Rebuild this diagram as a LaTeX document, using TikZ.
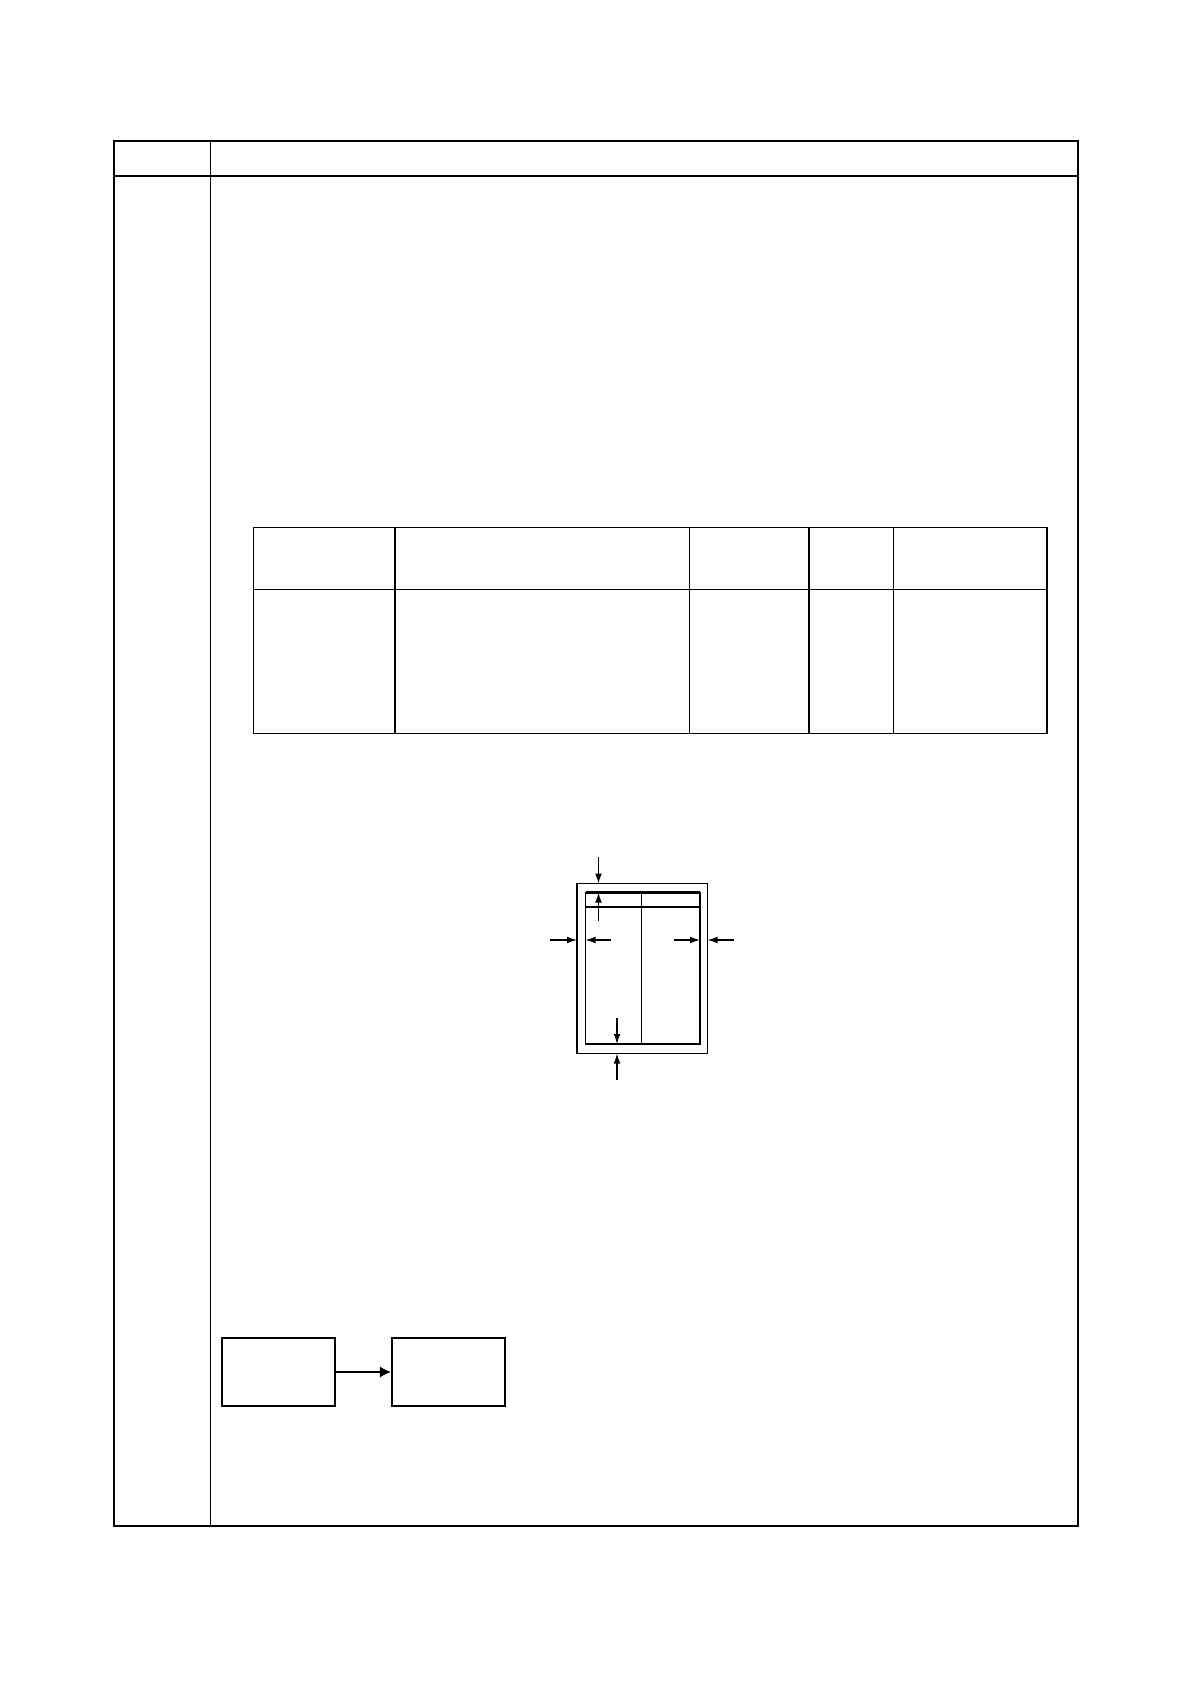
\documentclass[tikz,border=0pt]{standalone}
\usetikzlibrary{arrows.meta}
\begin{document}
\begin{tikzpicture}[x=0.5pt, y=-0.5pt,
    frameline/.style={line width=1.3pt},
    gridline/.style={line width=0.65pt},
    dimarrow/.style={line width=0.6pt, -{Latex[length=5pt, width=3.4pt]}},
    flowbox/.style={draw, line width=0.9pt, minimum width=56.7pt, minimum height=33.8pt}]
  \useasboundingbox (0, 0) rectangle (1192, 1682);
  % page frame
  \draw[gridline] (114, 176) -- (1078, 176)
                  (210.5, 141) -- (210.5, 1526);
  \draw[frameline] (114, 141) rectangle (1078, 1526);
  % table
  \draw[gridline] (253.5, 527.5) rectangle (395, 589.5) node (headA) [pos=.5] {}
                  (395, 527.5) rectangle (689.5, 589.5) node (headB) [pos=.5] {}
                  (689.5, 527.5) rectangle (809, 589.5) node (headC) [pos=.5] {}
                  (809, 527.5) rectangle (893.5, 589.5) node (headD) [pos=.5] {}
                  (893.5, 527.5) rectangle (1047, 589.5) node (headE) [pos=.5] {}
                  (253.5, 589.5) rectangle (395, 733.5) node (cellA) [pos=.5] {}
                  (395, 589.5) rectangle (689.5, 733.5) node (cellB) [pos=.5] {}
                  (689.5, 589.5) rectangle (809, 733.5) node (cellC) [pos=.5] {}
                  (809, 589.5) rectangle (893.5, 733.5) node (cellD) [pos=.5] {}
                  (893.5, 589.5) rectangle (1047, 733.5) node (cellE) [pos=.5] {};
  % sheet with margins
  \draw[gridline] (577, 883.5) rectangle (707.5, 1053.5) node (sheet) [pos=.5] {}
                  (641.5, 892.5) -- (641.5, 1044);
  \draw[line width=0.8pt] (585.5, 892.5) rectangle (700, 1044) node (printarea) [pos=.5] {};
  \draw[line width=1.1pt] (585.5, 892.5) -- (700, 892.5)
                          (585.5, 907) -- (700, 907);
  \coordinate (sheettop) at (598.5, 883.5);
  \coordinate (areatop) at (598.5, 892.5);
  \coordinate (sheetleft) at (577, 940);
  \coordinate (arealeft) at (585.5, 940);
  \coordinate (arearight) at (700, 940);
  \coordinate (sheetright) at (707.5, 940);
  \coordinate (areabottom) at (617, 1044);
  \coordinate (sheetbottom) at (617, 1053.5);
  \draw[dimarrow] (598.5, 856.5) -- (sheettop);
  \draw[dimarrow] (598.5, 920.5) -- (areatop);
  \draw[dimarrow] (550, 940) -- (sheetleft);
  \draw[dimarrow] (611, 940) -- (arealeft);
  \draw[dimarrow] (673.5, 940) -- (arearight);
  \draw[dimarrow] (734, 940) -- (sheetright);
  \draw[dimarrow] (617, 1017.5) -- (areabottom);
  \draw[dimarrow] (617, 1080) -- (sheetbottom);
  % flow
  \node[flowbox] (source) at (278.5, 1372) {};
  \node[flowbox] (target) at (448.5, 1372) {};
  \draw[line width=0.55pt, -{Latex[length=5.5pt, width=5.5pt]}] (source) -- (target);
\end{tikzpicture}
\end{document}
